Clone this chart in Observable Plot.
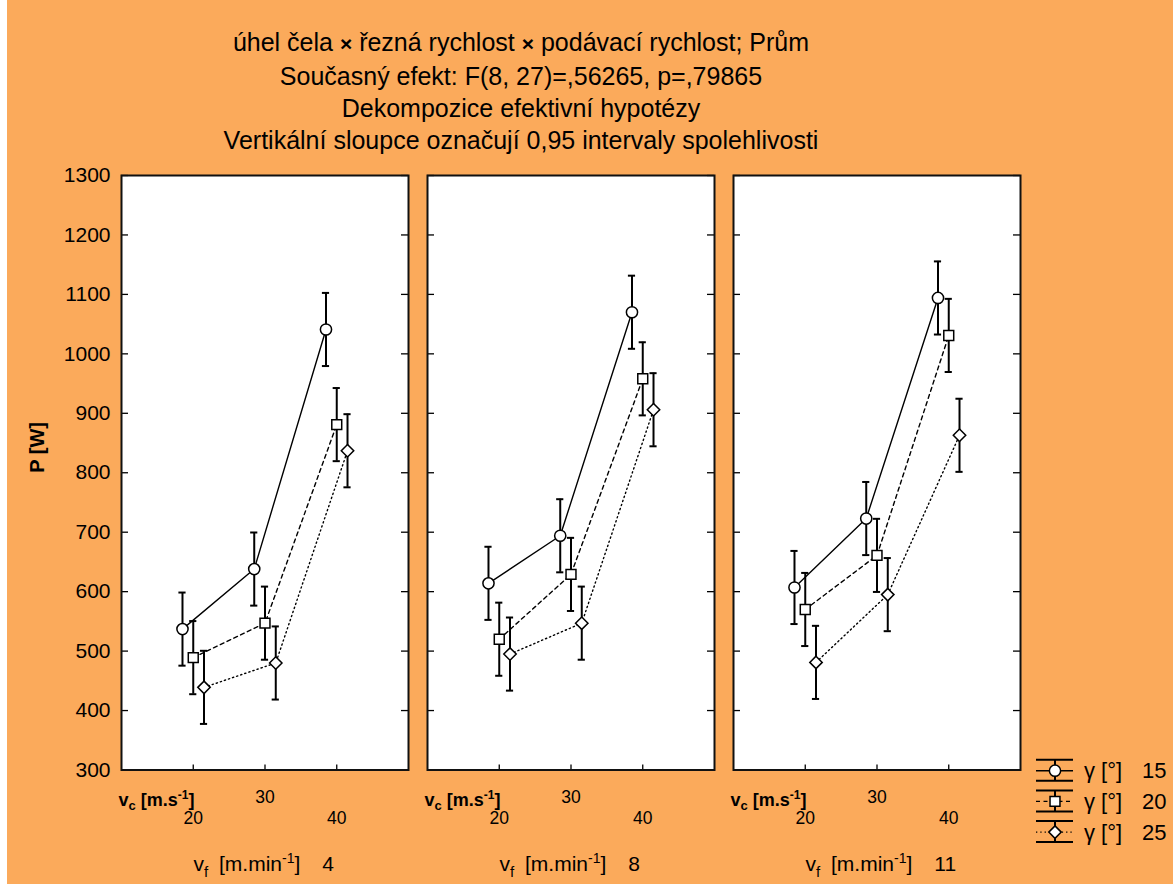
<!DOCTYPE html>
<html>
<head>
<meta charset="utf-8">
<script src="https://cdn.jsdelivr.net/npm/d3@7"></script>
<script src="https://cdn.jsdelivr.net/npm/@observablehq/plot@0.6"></script>
<style>
  body { margin: 0; background: #ffffff; }
  #page { position: relative; width: 1166px; height: 884px; margin-left: 7px; background: #FBAA5B;
          font-family: "Liberation Sans", Arial, sans-serif; color: #000; overflow: hidden; }
  #titles { position: absolute; left: 0; top: 26px; width: 1028px; text-align: center; font-size: 25px; line-height: 32px; }
  #titles b { font-size: 21px; }
  #chart { position: absolute; left: 0; top: 160px; }
  #legend { position: absolute; left: 1023px; top: 755px; }
</style>
</head>
<body>
<div id="page">
  <div id="titles"></div>
  <div id="chart"></div>
  <div id="legend"></div>
</div>
<script>
// ---------- data ----------
const titleLines = [
  "úhel čela × řezná rychlost × podávací rychlost; Prům",
  "Současný efekt: F(8, 27)=,56265, p=,79865",
  "Dekompozice efektivní hypotézy",
  "Vertikální sloupce označují 0,95 intervaly spolehlivosti"
];
const feedRates = [4, 8, 11];          // v_f [m.min-1] (panels)
const cuttingSpeeds = [20, 30, 40];    // v_c [m.s-1] (x categories)
const rakeAngles = [15, 20, 25];       // γ [°] (series)
const yTicks = [300, 400, 500, 600, 700, 800, 900, 1000, 1100, 1200, 1300];

// mean P [W] per rake angle, per feed rate, at v_c = 20, 30, 40
const gamma15_vf4  = [537, 638, 1041];
const gamma15_vf8  = [614, 694, 1070];
const gamma15_vf11 = [607, 723, 1094];
const gamma20_vf4  = [489, 547, 881];
const gamma20_vf8  = [520, 629, 958];
const gamma20_vf11 = [570, 661, 1031];
const gamma25_vf4  = [439, 480, 837];
const gamma25_vf8  = [495, 547, 906];
const gamma25_vf11 = [481, 595, 863];
// half-width of the 0.95 confidence interval [W]
const ciHalfWidth = 61.5;

// ---------- build table ----------
const meansByGamma = {
  15: [gamma15_vf4, gamma15_vf8, gamma15_vf11],
  20: [gamma20_vf4, gamma20_vf8, gamma20_vf11],
  25: [gamma25_vf4, gamma25_vf8, gamma25_vf11]
};
const seriesOffset = {15: -0.15, 20: 0, 25: 0.15};
const capHalf = 0.05;
const rows = [];
rakeAngles.forEach(g => {
  feedRates.forEach((vf, fi) => {
    cuttingSpeeds.forEach((vc, ci) => {
      const mean = meansByGamma[g][fi][ci];
      const xpos = ci + 1 + seriesOffset[g];
      rows.push({gamma: g, vf, vc, mean, lo: mean - ciHalfWidth, hi: mean + ciHalfWidth,
                 xpos, capL: xpos - capHalf, capR: xpos + capHalf});
    });
  });
});
const catLow = cuttingSpeeds.map((v, i) => ({i: i + 1, label: String(v)})).filter((d, i) => i !== 1);
const catHigh = cuttingSpeeds.map((v, i) => ({i: i + 1, label: String(v)})).filter((d, i) => i === 1);
const dashes = {15: null, 20: "4,3.5", 25: "1.3,3"};

// ---------- titles ----------
const tEl = document.getElementById("titles");
titleLines.forEach(line => {
  const div = document.createElement("div");
  line.split("×").forEach((part, k) => {
    if (k > 0) { const b = document.createElement("b"); b.textContent = "×"; div.appendChild(b); }
    div.appendChild(document.createTextNode(part));
  });
  tEl.appendChild(div);
});

// ---------- chart ----------
const frameH = 724 - 15 - 114.5;
const chart = Plot.plot({
  width: 1166,
  height: 724,
  marginLeft: 114,
  marginRight: 153,
  marginTop: 15,
  marginBottom: 114.5,
  style: {background: "transparent", fontFamily: "Liberation Sans, Arial, sans-serif", color: "black", overflow: "visible"},
  fx: {domain: feedRates, padding: 19 / 306, axis: null},
  x: {domain: [0, 4], axis: null},
  y: {domain: [300, 1300], axis: null},
  symbol: {domain: rakeAngles, range: ["circle", "square", "diamond2"]},
  marks: [
    Plot.frame({fill: "white", stroke: null}),
    Plot.tickY(yTicks, {y: d => d, insetRight: 280, stroke: "black", strokeWidth: 1.3}),
    Plot.tickY(yTicks, {y: d => d, insetLeft: 280, stroke: "black", strokeWidth: 1.3}),
    Plot.tickX([1, 2, 3], {x: d => d, insetTop: frameH - 5, stroke: "black", strokeWidth: 1.3}),
    ...rakeAngles.map(g => Plot.line(rows.filter(d => d.gamma === g), {
      fx: "vf", x: "xpos", y: "mean", z: null, stroke: "black", strokeWidth: 1.4,
      strokeDasharray: dashes[g]
    })),
    Plot.ruleX(rows, {fx: "vf", x: "xpos", y1: "lo", y2: "hi", stroke: "black", strokeWidth: 2}),
    Plot.ruleY(rows, {fx: "vf", y: "lo", x1: "capL", x2: "capR", stroke: "black", strokeWidth: 2}),
    Plot.ruleY(rows, {fx: "vf", y: "hi", x1: "capL", x2: "capR", stroke: "black", strokeWidth: 2}),
    Plot.dot(rows, {fx: "vf", x: "xpos", y: "mean", symbol: "gamma", r: 5.6, fill: "white", stroke: "black", strokeWidth: 1.5}),
    Plot.frame({stroke: "#111", strokeWidth: 2}),
    Plot.axisY(yTicks, {anchor: "left", tickSize: 0, tickPadding: 11, fontSize: 21, label: null, tickFormat: d => String(d)}),
    Plot.text([{vf: feedRates[0], t: "P [W]"}], {fx: "vf", text: "t", frameAnchor: "left", dx: -84, rotate: -90, fontWeight: "bold", fontSize: 20}),
    Plot.text(catLow, {x: "i", text: "label", frameAnchor: "bottom", lineAnchor: "middle", dy: 48, fontSize: 17.5}),
    Plot.text(catHigh, {x: "i", text: "label", frameAnchor: "bottom", lineAnchor: "middle", dy: 27.6, fontSize: 17.5}),
    Plot.text(["vc:"], {text: d => d, frameAnchor: "bottom-left", lineAnchor: "middle", textAnchor: "start", dx: -3, dy: 30, fontWeight: "bold", fontSize: 18}),
    Plot.text(feedRates, {fx: d => d, text: d => "vf:" + d, frameAnchor: "bottom-left", lineAnchor: "middle", textAnchor: "start", dx: 72, dy: 94, fontSize: 21})
  ]
});
document.getElementById("chart").appendChild(chart);

// rich text (sub/superscripts) for axis labels
const svgSel = d3.select(chart);
svgSel.selectAll("text").each(function () {
  const t = d3.select(this);
  const s = this.textContent;
  if (s === "vc:") {
    t.text(null);
    t.append("tspan").text("v");
    t.append("tspan").attr("dy", 4).attr("font-size", 13).text("c");
    t.append("tspan").attr("dy", -4).text(" [m.s");
    t.append("tspan").attr("dy", -7).attr("font-size", 12).text("-1");
    t.append("tspan").attr("dy", 7).text("]");
  } else if (s.startsWith("vf:")) {
    const val = s.slice(3);
    t.text(null);
    t.append("tspan").text("v");
    t.append("tspan").attr("dy", 6).attr("font-size", 15).text("f");
    t.append("tspan").attr("dy", -6).attr("dx", 5).text(" [m.min");
    t.append("tspan").attr("dy", -8).attr("font-size", 14).text("-1");
    t.append("tspan").attr("dy", 8).text("]");
    t.append("tspan").attr("dx", 22).text(val);
  }
});

// ---------- legend ----------
const lg = d3.select("#legend").append("svg").attr("width", 143).attr("height", 100)
  .style("overflow", "visible").attr("font-family", "Liberation Sans, Arial, sans-serif");
const symTypes = {15: d3.symbolCircle, 20: d3.symbolSquare, 25: d3.symbolDiamond2};
rakeAngles.forEach((g, i) => {
  const cy = 15.7 + i * 30.7;
  const row = lg.append("g");
  row.append("line").attr("x1", 6).attr("x2", 43).attr("y1", cy - 11).attr("y2", cy - 11).attr("stroke", "black").attr("stroke-width", 2);
  row.append("line").attr("x1", 6).attr("x2", 43).attr("y1", cy + 10).attr("y2", cy + 10).attr("stroke", "black").attr("stroke-width", 2);
  row.append("line").attr("x1", 25).attr("x2", 25).attr("y1", cy - 11).attr("y2", cy + 10).attr("stroke", "black").attr("stroke-width", 2);
  row.append("line").attr("x1", 6).attr("x2", 43).attr("y1", cy).attr("y2", cy).attr("stroke", "black").attr("stroke-width", 1.4)
    .attr("stroke-dasharray", dashes[g]);
  row.append("path").attr("transform", `translate(25,${cy})`)
    .attr("d", d3.symbol(symTypes[g], Math.PI * 5.6 * 5.6)())
    .attr("fill", "white").attr("stroke", "black").attr("stroke-width", 1.5);
  const tx = row.append("text").attr("x", 54).attr("y", cy).attr("dy", "0.35em").attr("font-size", 22);
  tx.append("tspan").text("γ [°]");
  tx.append("tspan").attr("x", 112).text(String(g));
});
</script>
</body>
</html>
